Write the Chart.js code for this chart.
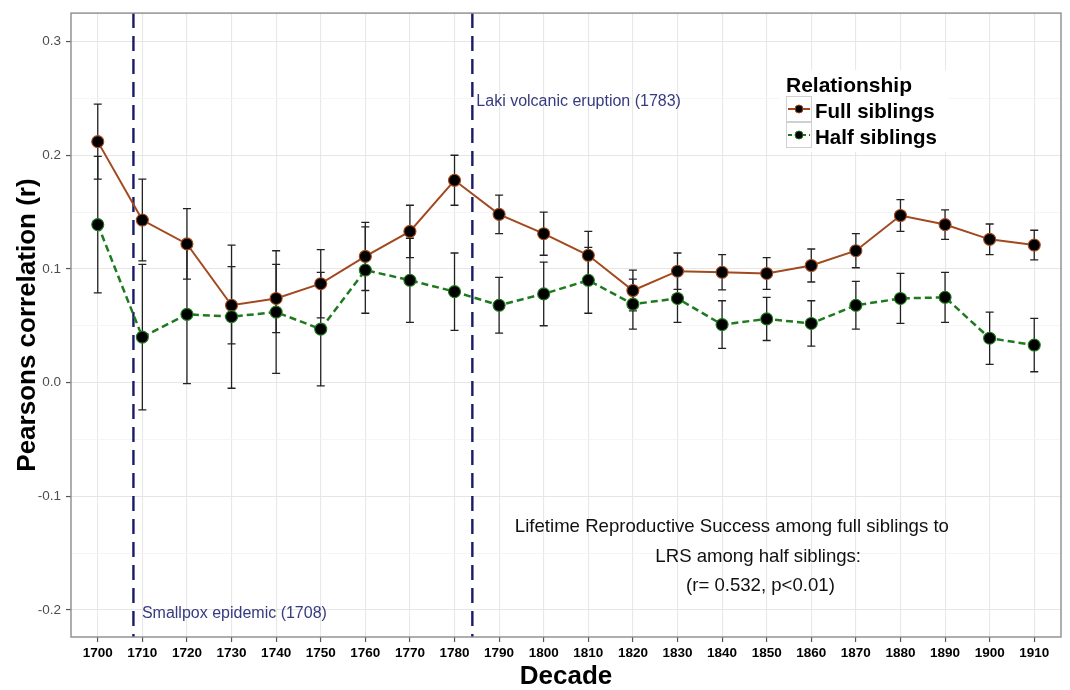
<!DOCTYPE html>
<html><head><meta charset="utf-8">
<script src="https://cdn.jsdelivr.net/npm/chart.js@4/dist/chart.umd.min.js"></script>
<style>html,body{margin:0;padding:0;background:#fff;overflow:hidden;}</style>
</head><body>
<canvas id="c" width="1070" height="690"></canvas>
<script>
const decades = [1700,1710,1720,1730,1740,1750,1760,1770,1780,1790,1800,1810,1820,1830,1840,1850,1860,1870,1880,1890,1900,1910];
const fullSiblings    = [0.212,0.143,0.122,0.068,0.074,0.087,0.111,0.133,0.178,0.148,0.131,0.112,0.081,0.098,0.097,0.096,0.103,0.116,0.147,0.139,0.126,0.121];
const fullSiblingsErr = [0.033,0.036,0.031,0.034,0.030,0.030,0.030,0.023,0.022,0.017,0.019,0.021,0.018,0.016,0.0155,0.014,0.0145,0.015,0.014,0.013,0.0135,0.013];
const halfSiblings    = [0.139,0.040,0.060,0.058,0.062,0.047,0.099,0.090,0.080,0.068,0.078,0.090,0.069,0.074,0.051,0.056,0.052,0.068,0.074,0.075,0.039,0.033];
const halfSiblingsErr = [0.060,0.064,0.061,0.063,0.054,0.050,0.038,0.037,0.034,0.0245,0.028,0.029,0.022,0.021,0.021,0.019,0.020,0.021,0.022,0.022,0.023,0.0235];
const yMajorTicks = [-0.2,-0.1,0.0,0.1,0.2,0.3];
const yMinorTicks = [-0.15,-0.05,0.05,0.15,0.25];
const eventYears  = [1708,1784];
const eventLabels = ['Smallpox epidemic (1708)','Laki volcanic eruption (1783)'];
const noteLines   = ['Lifetime Reproductive Success among full siblings to','LRS among half siblings:','(r= 0.532, p<0.01)'];
const seriesNames = ['Full siblings','Half siblings'];
const legendTitle = 'Relationship';

const FONT = '"Liberation Sans", Arial, sans-serif';
const FULL_COLOR = '#a3491f';
const HALF_COLOR = '#1f7a1f';
const EVENT_LINE = '#1a1a68';
const EVENT_TEXT = '#363b80';

const isMajor = v => yMajorTicks.some(m => Math.abs(m - v) < 1e-9);

// annotation placement (data coordinates)
const eventLabelPos = [{x:1709.9, y:-0.207}, {x:1784.9, y:0.2434}];
const notePos = [{x:1842.2, y:-0.1315}, {x:1848.1, y:-0.1577}, {x:1848.6, y:-0.183}];

const decorPlugin = {
  id: 'decor',
  beforeDatasetsDraw(chart) {
    const {ctx, chartArea: a, scales: {x, y}} = chart;
    ctx.save();
    ctx.strokeStyle = EVENT_LINE; ctx.lineWidth = 2.4; ctx.setLineDash([15, 8]);
    eventYears.forEach(yr => {
      const px = x.getPixelForValue(yr);
      ctx.beginPath(); ctx.moveTo(px, a.top); ctx.lineTo(px, a.bottom); ctx.stroke();
    });
    ctx.setLineDash([]);
    ctx.strokeStyle = '#222'; ctx.lineWidth = 1.3;
    const drawBars = (vals, errs) => vals.forEach((v, i) => {
      const px = x.getPixelForValue(decades[i]);
      const t = y.getPixelForValue(v + errs[i]);
      const b = y.getPixelForValue(v - errs[i]);
      ctx.beginPath();
      ctx.moveTo(px, t); ctx.lineTo(px, b);
      ctx.moveTo(px - 4, t); ctx.lineTo(px + 4, t);
      ctx.moveTo(px - 4, b); ctx.lineTo(px + 4, b);
      ctx.stroke();
    });
    drawBars(fullSiblings, fullSiblingsErr);
    drawBars(halfSiblings, halfSiblingsErr);
    ctx.textBaseline = 'alphabetic';
    ctx.fillStyle = EVENT_TEXT; ctx.font = '16px ' + FONT; ctx.textAlign = 'left';
    eventLabels.forEach((t, i) => ctx.fillText(t, x.getPixelForValue(eventLabelPos[i].x), y.getPixelForValue(eventLabelPos[i].y)));
    ctx.fillStyle = '#111'; ctx.font = '18.6px ' + FONT; ctx.textAlign = 'center';
    noteLines.forEach((t, i) => ctx.fillText(t, x.getPixelForValue(notePos[i].x), y.getPixelForValue(notePos[i].y)));
    ctx.restore();
  },
  afterDraw(chart) {
    const {ctx, chartArea: a} = chart;
    ctx.save();
    ctx.strokeStyle = '#8c8c8c'; ctx.lineWidth = 1.4;
    ctx.strokeRect(a.left, a.top, a.right - a.left, a.bottom - a.top);
    ctx.fillStyle = '#fff'; ctx.fillRect(780, 70, 168, 82);
    ctx.fillStyle = '#000'; ctx.textAlign = 'left'; ctx.textBaseline = 'alphabetic';
    ctx.font = 'bold 21px ' + FONT; ctx.fillText(legendTitle, 786, 91.7);
    chart.data.datasets.forEach((ds, i) => {
      const ky = 96 + i * 26, cy = ky + 13;
      ctx.fillStyle = '#fff'; ctx.fillRect(786, ky, 26, 26);
      ctx.strokeStyle = '#d0d0d0'; ctx.lineWidth = 1; ctx.setLineDash([]);
      ctx.strokeRect(786.5, ky + 0.5, 25, 25);
      ctx.strokeStyle = ds.borderColor; ctx.lineWidth = 2;
      ctx.setLineDash(ds.borderDash ? [4, 3] : []);
      ctx.beginPath(); ctx.moveTo(788, cy); ctx.lineTo(810, cy); ctx.stroke();
      ctx.setLineDash([]);
      ctx.beginPath(); ctx.arc(799, cy, 4, 0, Math.PI * 2);
      ctx.fillStyle = '#000'; ctx.fill(); ctx.lineWidth = 1; ctx.strokeStyle = ds.borderColor; ctx.stroke();
      ctx.fillStyle = '#000'; ctx.font = 'bold 20.5px ' + FONT;
      ctx.fillText(ds.label, 815, cy + 9);
    });
    ctx.restore();
  }
};

new Chart(document.getElementById('c'), {
  type: 'line',
  data: {
    datasets: [
      {label: seriesNames[0], data: decades.map((d, i) => ({x: d, y: fullSiblings[i]})),
       borderColor: FULL_COLOR, borderWidth: 2, tension: 0,
       pointRadius: 6, pointBackgroundColor: '#000', pointBorderColor: FULL_COLOR, pointBorderWidth: 1.1, order: 1},
      {label: seriesNames[1], data: decades.map((d, i) => ({x: d, y: halfSiblings[i]})),
       borderColor: HALF_COLOR, borderWidth: 2.5, borderDash: [7, 4], tension: 0,
       pointRadius: 6, pointBackgroundColor: '#000', pointBorderColor: HALF_COLOR, pointBorderWidth: 1.1, order: 0}
    ]
  },
  options: {
    responsive: false, animation: false, devicePixelRatio: 1,
    layout: {padding: {left: 0, top: 9, right: 9, bottom: 0}},
    plugins: {legend: {display: false}, tooltip: {enabled: false}},
    scales: {
      x: {
        type: 'linear', min: 1694, max: 1916,
        afterBuildTicks: s => { s.ticks = decades.map(v => ({value: v})); },
        afterFit: s => { s.height = 53; },
        border: {display: false},
        grid: {color: '#e8e8e8', lineWidth: 1.1, tickColor: '#555', tickLength: 5, tickWidth: 1.2},
        ticks: {font: {family: FONT, size: 13.5, weight: 'bold'}, color: '#000', padding: 3,
                autoSkip: false, maxRotation: 0, callback: v => String(v)},
        title: {display: true, text: 'Decade', color: '#000',
                font: {family: FONT, size: 26, weight: 'bold', lineHeight: 1.0}, padding: {top: 0, bottom: 0}}
      },
      y: {
        type: 'linear', min: -0.2239, max: 0.3251,
        afterBuildTicks: s => { s.ticks = yMajorTicks.concat(yMinorTicks).sort((a, b) => a - b).map(v => ({value: v})); },
        afterFit: s => { s.width = 71; },
        border: {display: false},
        grid: {
          color: c => isMajor(c.tick.value) ? '#e6e6e6' : '#f2f2f2',
          lineWidth: c => isMajor(c.tick.value) ? 1.1 : 0.8,
          tickColor: c => isMajor(c.tick.value) ? '#555' : 'rgba(0,0,0,0)',
          tickLength: 5, tickWidth: 1.2
        },
        ticks: {font: {family: FONT, size: 13.5}, color: '#4d4d4d', padding: 5, autoSkip: false,
                callback: v => isMajor(v) ? v.toFixed(1) : ''},
        title: {display: true, text: 'Pearsons correlation (r)', color: '#000',
                font: {family: FONT, size: 26, weight: 'bold', lineHeight: 1.2}, padding: {top: 12, bottom: 0}}
      }
    }
  },
  plugins: [decorPlugin]
});
</script>
</body></html>
